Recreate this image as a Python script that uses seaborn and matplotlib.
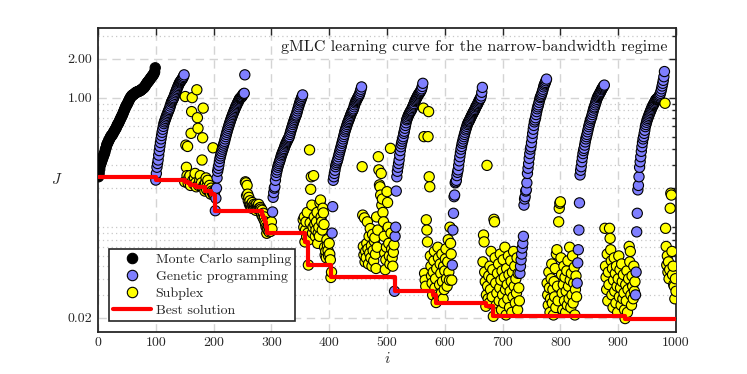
import numpy as np
import pandas as pd
import matplotlib
matplotlib.use("Agg")
import matplotlib.pyplot as plt
from matplotlib.lines import Line2D
from matplotlib.ticker import FixedLocator, NullFormatter
import seaborn as sns

# ---------------- data ----------------
mc_J = [0.245, 0.26, 0.28, 0.30, 0.31, 0.32, 0.33, 0.34, 0.35, 0.36,
        0.37, 0.38, 0.40, 0.41, 0.43, 0.44, 0.45, 0.46, 0.47, 0.48,
        0.49, 0.50, 0.51, 0.51, 0.52, 0.53, 0.54, 0.55, 0.56, 0.57,
        0.58, 0.59, 0.61, 0.62, 0.63, 0.64, 0.66, 0.67, 0.69, 0.70,
        0.72, 0.73, 0.75, 0.77, 0.79, 0.81, 0.83, 0.85, 0.87, 0.88,
        0.90, 0.92, 0.94, 0.96, 0.98, 1.00, 1.01, 1.03, 1.04, 1.05,
        1.05, 1.06, 1.07, 1.08, 1.09, 1.10, 1.10, 1.11, 1.11, 1.12,
        1.12, 1.13, 1.13, 1.14, 1.15, 1.16, 1.17, 1.18, 1.19, 1.20,
        1.22, 1.24, 1.26, 1.28, 1.30, 1.32, 1.33, 1.35, 1.37, 1.39,
        1.41, 1.43, 1.45, 1.47, 1.49, 1.51, 1.54, 1.58, 1.70]
mc_start = 1

gp_start = [100, 203, 302, 405, 513, 613, 730, 829, 930]
gp_J = [
    [0.231, 0.26, 0.29, 0.31, 0.33, 0.36, 0.39, 0.42, 0.45, 0.48,
     0.51, 0.54, 0.57, 0.60, 0.63, 0.65, 0.67, 0.69, 0.71, 0.73,
     0.75, 0.77, 0.79, 0.81, 0.83, 0.86, 0.89, 0.92, 0.94, 0.96,
     0.98, 1.00, 1.03, 1.06, 1.09, 1.12, 1.15, 1.18, 1.21, 1.24,
     1.27, 1.30, 1.32, 1.34, 1.36, 1.38, 1.40, 1.43, 1.46, 1.50],
    [0.134, 0.167, 0.20, 0.24, 0.27, 0.285, 0.30, 0.32, 0.34, 0.355,
     0.37, 0.385, 0.40, 0.415, 0.43, 0.445, 0.46, 0.48, 0.50, 0.52,
     0.54, 0.56, 0.58, 0.60, 0.62, 0.64, 0.66, 0.68, 0.70, 0.72,
     0.74, 0.76, 0.78, 0.80, 0.82, 0.84, 0.86, 0.88, 0.90, 0.92,
     0.94, 0.96, 0.98, 0.99, 1.00, 1.01, 1.02, 1.04, 1.06, 1.07,
     1.08, 1.50],
    [0.131, 0.17, 0.185, 0.20, 0.205, 0.23, 0.25, 0.265, 0.277, 0.29,
     0.30, 0.31, 0.32, 0.33, 0.342, 0.355, 0.365, 0.375, 0.385, 0.395,
     0.405, 0.418, 0.43, 0.44, 0.45, 0.46, 0.47, 0.48, 0.49, 0.50,
     0.52, 0.54, 0.56, 0.58, 0.597, 0.62, 0.64, 0.66, 0.68, 0.70,
     0.72, 0.735, 0.76, 0.79, 0.82, 0.85, 0.88, 0.91, 0.94, 0.96,
     0.99, 1.02, 1.05],
    [0.09, 0.144, 0.23, 0.245, 0.26, 0.275, 0.293, 0.305, 0.315, 0.325,
     0.335, 0.35, 0.365, 0.38, 0.395, 0.41, 0.425, 0.444, 0.46, 0.48,
     0.50, 0.52, 0.545, 0.563, 0.58, 0.60, 0.62, 0.64, 0.655, 0.673,
     0.69, 0.71, 0.73, 0.75, 0.77, 0.785, 0.80, 0.82, 0.85, 0.88,
     0.91, 0.93, 0.95, 0.97, 0.99, 1.01, 1.03, 1.05, 1.08, 1.12,
     1.16, 1.21],
    [0.032, 0.085, 0.10, 0.19, 0.245, 0.27, 0.29, 0.31, 0.33, 0.36,
     0.39, 0.418, 0.44, 0.46, 0.48, 0.50, 0.53, 0.55, 0.58, 0.61,
     0.64, 0.673, 0.69, 0.71, 0.73, 0.745, 0.76, 0.775, 0.79, 0.80,
     0.82, 0.84, 0.86, 0.88, 0.90, 0.93, 0.95, 0.97, 0.99, 1.01,
     1.03, 1.05, 1.07, 1.08, 1.10, 1.12, 1.14, 1.17, 1.22, 1.29],
    [0.051, 0.095, 0.128, 0.172, 0.177, 0.22, 0.224, 0.23, 0.25, 0.265,
     0.277, 0.30, 0.325, 0.35, 0.375, 0.40, 0.42, 0.444, 0.46, 0.48,
     0.50, 0.52, 0.54, 0.563, 0.58, 0.60, 0.62, 0.635, 0.65, 0.66,
     0.673, 0.69, 0.705, 0.72, 0.735, 0.75, 0.765, 0.78, 0.795, 0.81,
     0.83, 0.85, 0.865, 0.88, 0.90, 0.92, 0.94, 0.96, 0.98, 0.99,
     1.03, 1.10, 1.20],
    [0.044, 0.050, 0.056, 0.062, 0.069, 0.075, 0.085, 0.148, 0.165, 0.172,
     0.19, 0.194, 0.22, 0.26, 0.285, 0.31, 0.34, 0.37, 0.40, 0.418,
     0.45, 0.49, 0.53, 0.57, 0.61, 0.65, 0.673, 0.70, 0.74, 0.78,
     0.82, 0.85, 0.88, 0.92, 0.96, 1.00, 1.02, 1.05, 1.08, 1.12,
     1.16, 1.21, 1.25, 1.28, 1.31, 1.35, 1.39],
    [0.037, 0.053, 0.067, 0.095, 0.154, 0.253, 0.275, 0.293, 0.32, 0.345,
     0.37, 0.39, 0.406, 0.43, 0.455, 0.48, 0.50, 0.52, 0.545, 0.57,
     0.597, 0.62, 0.645, 0.67, 0.69, 0.71, 0.74, 0.77, 0.80, 0.83,
     0.85, 0.88, 0.91, 0.94, 0.97, 1.00, 1.02, 1.04, 1.06, 1.08,
     1.10, 1.12, 1.15, 1.17, 1.19, 1.21, 1.23, 1.25],
    [0.030, 0.045, 0.092, 0.128, 0.194, 0.21, 0.245, 0.29, 0.32, 0.35,
     0.385, 0.418, 0.45, 0.48, 0.50, 0.53, 0.56, 0.597, 0.62, 0.645,
     0.67, 0.69, 0.71, 0.73, 0.75, 0.77, 0.79, 0.81, 0.83, 0.85,
     0.87, 0.885, 0.90, 0.92, 0.94, 0.96, 0.97, 0.98, 0.99, 1.00,
     1.01, 1.03, 1.05, 1.08, 1.12, 1.17, 1.23, 1.29, 1.36, 1.45,
     1.59],
]

sp_start = [150, 255, 355, 457, 563, 666, 777, 877, 981]
sp_J = [
    [0.224, 1.02, 0.43, 0.29, 0.25, 0.42, 0.218, 0.24, 0.23, 0.25,
     0.21, 0.53, 0.78, 1.00, 0.23, 0.22, 0.215, 0.24, 0.26, 0.22,
     0.205, 1.15, 0.70, 0.58, 0.21, 0.22, 0.23, 0.25, 0.21, 0.22,
     0.33, 0.49, 0.83, 0.21, 0.21, 0.19, 0.22, 0.24, 0.195, 0.21,
     0.23, 0.20, 0.19, 0.21, 0.195, 0.18, 0.20, 0.19, 0.185, 0.41,
     0.177, 0.18, 0.19],
    [0.224, 0.22, 0.175, 0.21, 0.18, 0.16, 0.17, 0.15, 0.16, 0.145,
     0.15, 0.14, 0.155, 0.145, 0.14, 0.15, 0.145, 0.14, 0.135, 0.15,
     0.14, 0.145, 0.138, 0.15, 0.14, 0.136, 0.142, 0.138, 0.125, 0.135,
     0.12, 0.128, 0.115, 0.12, 0.11, 0.105, 0.10, 0.0897, 0.098, 0.095,
     0.105, 0.092, 0.10, 0.095, 0.093, 0.11, 0.097],
    [0.114, 0.10, 0.12, 0.077, 0.095, 0.11, 0.085, 0.13, 0.09, 0.051,
     0.08, 0.395, 0.108, 0.196, 0.245, 0.148, 0.09, 0.10, 0.25, 0.12,
     0.105, 0.085, 0.095, 0.11, 0.13, 0.075, 0.09, 0.10, 0.085, 0.154,
     0.162, 0.12, 0.11, 0.095, 0.14, 0.129, 0.105, 0.07, 0.061, 0.065,
     0.058, 0.08, 0.072, 0.066, 0.06, 0.075, 0.062, 0.056, 0.0409, 0.045],
    [0.293, 0.124, 0.071, 0.061, 0.118, 0.054, 0.065, 0.058, 0.075, 0.11,
     0.068, 0.052, 0.085, 0.063, 0.0976, 0.058, 0.072, 0.05, 0.088, 0.066,
     0.055, 0.078, 0.083, 0.062, 0.048, 0.12, 0.07, 0.095, 0.35, 0.277,
     0.212, 0.205, 0.177, 0.26, 0.148, 0.165, 0.13, 0.11, 0.085, 0.063,
     0.047, 0.056, 0.07, 0.188, 0.155, 0.10, 0.075, 0.06, 0.052, 0.406,
     0.09, 0.068, 0.058, 0.05, 0.064, 0.073],
    [0.83, 0.50, 0.044, 0.039, 0.035, 0.114, 0.095, 0.077, 0.50, 0.78,
     0.245, 0.205, 0.06, 0.05, 0.042, 0.037, 0.030, 0.045, 0.055, 0.065,
     0.034, 0.04, 0.0262, 0.048, 0.03, 0.07, 0.058, 0.029, 0.036, 0.052,
     0.044, 0.031, 0.062, 0.038, 0.028, 0.05, 0.033, 0.046, 0.057, 0.068,
     0.04, 0.035, 0.054, 0.08, 0.045, 0.039, 0.10, 0.075, 0.062, 0.039],
    [0.054, 0.087, 0.077, 0.045, 0.038, 0.0245, 0.03, 0.30, 0.035, 0.028,
     0.042, 0.026, 0.05, 0.033, 0.065, 0.04, 0.029, 0.047, 0.0205, 0.115,
     0.11, 0.058, 0.037, 0.025, 0.031, 0.044, 0.022, 0.052, 0.027, 0.034,
     0.062, 0.039, 0.023, 0.046, 0.03, 0.056, 0.026, 0.041, 0.07, 0.033,
     0.021, 0.048, 0.036, 0.028, 0.06, 0.043, 0.024, 0.032, 0.055, 0.038,
     0.022, 0.045, 0.029, 0.065, 0.035, 0.05, 0.026, 0.04, 0.031, 0.058,
     0.023, 0.044, 0.034, 0.027],
    [0.037, 0.03, 0.025, 0.045, 0.034, 0.022, 0.028, 0.04, 0.052, 0.026,
     0.033, 0.021, 0.038, 0.029, 0.048, 0.024, 0.062, 0.067, 0.035, 0.027,
     0.11, 0.14, 0.153, 0.157, 0.058, 0.043, 0.031, 0.023, 0.036, 0.05,
     0.027, 0.041, 0.022, 0.032, 0.046, 0.025, 0.055, 0.035, 0.028, 0.07,
     0.039, 0.024, 0.044, 0.03, 0.06, 0.026, 0.037, 0.049, 0.021, 0.033,
     0.042, 0.029],
    [0.098, 0.05, 0.041, 0.033, 0.062, 0.027, 0.045, 0.036, 0.098, 0.082,
     0.067, 0.055, 0.03, 0.048, 0.024, 0.039, 0.058, 0.032, 0.044, 0.026,
     0.05, 0.035, 0.022, 0.04, 0.06, 0.029, 0.047, 0.034, 0.025, 0.052,
     0.038, 0.028, 0.043, 0.031, 0.023, 0.0197, 0.036, 0.027, 0.046, 0.022,
     0.033, 0.04, 0.071, 0.054, 0.065, 0.03, 0.025, 0.042, 0.035, 0.028,
     0.05, 0.032, 0.038],
    [0.905, 0.098, 0.071, 0.051, 0.06, 0.045, 0.054, 0.04, 0.047, 0.14,
     0.183, 0.177, 0.065, 0.043, 0.05, 0.036, 0.035, 0.028, 0.04, 0.032],
]

best_i = [1, 100, 150, 156, 160, 170, 185, 195, 200, 203, 283, 285, 287,
          289, 290, 291, 292, 358, 364, 403, 513, 579, 585, 671, 684, 912, 1000]
best_J = [0.245, 0.231, 0.224, 0.218, 0.21, 0.205, 0.19, 0.18, 0.177, 0.134,
          0.125, 0.12, 0.115, 0.11, 0.105, 0.10, 0.0897, 0.077, 0.051, 0.0409,
          0.032, 0.030, 0.0262, 0.0245, 0.0205, 0.0197, 0.0197]

labels = ["Monte Carlo sampling", "Genetic programming", "Subplex", "Best solution"]
colors = {"Monte Carlo sampling": "#000000",
          "Genetic programming": "#7F7FFF",
          "Subplex": "#FFFF00"}
title_text = "gMLC learning curve for the narrow-bandwidth regime"
ytick_vals = [0.02, 1.0, 2.0]
ytick_labels = ["0.02", "1.00", "2.00"]
xtick_vals = list(range(0, 1001, 100))

# ---------------- build table ----------------
rows = []
for k, v in enumerate(mc_J):
    rows.append((mc_start + k, v, labels[0]))
for s, vals in zip(gp_start, gp_J):
    for k, v in enumerate(vals):
        rows.append((s + k, v, labels[1]))
for s, vals in zip(sp_start, sp_J):
    for k, v in enumerate(vals):
        rows.append((s + k, v, labels[2]))
df = pd.DataFrame(rows, columns=["i", "J", "method"]).sort_values("i", kind="stable")
best = pd.DataFrame({"i": best_i, "J": best_J})

# ---------------- style ----------------
sns.set_style("white")
plt.rcParams["font.family"] = ["cmr10", "DejaVu Serif"]
plt.rcParams["mathtext.fontset"] = "cm"
plt.rcParams["axes.unicode_minus"] = False

fig = plt.figure(figsize=(7.47, 3.74), dpi=100)
ax = fig.add_axes([98 / 747, 1 - 331.7 / 374, 578 / 747, 303.4 / 374])

sns.scatterplot(data=df, x="i", y="J", hue="method", palette=colors, s=54,
                edgecolor="black", linewidth=0.8, legend=False, ax=ax, zorder=3)
sns.lineplot(data=best, x="i", y="J", color="#FF0000", linewidth=3,
             drawstyle="steps-post", estimator=None, sort=False, ax=ax, zorder=4)

ax.set_yscale("log")
ax.set_xlim(0, 1000)
ax.set_ylim(0.0156, 3.43)

ax.xaxis.set_major_locator(FixedLocator(xtick_vals))
ax.set_xticklabels([str(v) for v in xtick_vals])
ax.yaxis.set_major_locator(FixedLocator(ytick_vals))
ax.set_yticklabels(ytick_labels)
minor_vals = [0.03, 0.04, 0.05, 0.06, 0.07, 0.08, 0.09, 0.1, 0.2, 0.3, 0.4,
              0.5, 0.6, 0.7, 0.8, 0.9, 3.0]
ax.yaxis.set_minor_locator(FixedLocator(minor_vals))
ax.yaxis.set_minor_formatter(NullFormatter())
ax.xaxis.set_minor_locator(FixedLocator([]))

ax.tick_params(which="both", direction="in", top=True, right=True,
               colors="#262626", labelsize=10, labelcolor="#262626")
ax.tick_params(which="major", length=5, width=1.0, pad=4)
ax.tick_params(which="minor", length=3, width=1.0)

for sp in ax.spines.values():
    sp.set_visible(True)
    sp.set_color("#262626")
    sp.set_linewidth(1.3)

ax.grid(True, which="major", axis="both", color="#D4D4D4", linestyle=(0, (6, 4)),
        linewidth=1.0, zorder=0)
ax.grid(True, which="minor", axis="y", color="#C8C8C8", linestyle=(0, (1, 2.5)),
        linewidth=0.9, zorder=0)
ax.set_axisbelow(True)

ax.set_xlabel("$i$", fontsize=11, labelpad=1)
ax.set_ylabel("$J$", fontsize=11, rotation=0, labelpad=8, va="center")

ax.text(0.986, 0.938, title_text, transform=ax.transAxes, ha="right", va="center",
        fontsize=11.5, color="#1a1a1a", zorder=5,
        bbox=dict(facecolor="white", edgecolor="none", pad=1.0))

handles = [
    Line2D([], [], marker="o", ls="none", markerfacecolor=colors[labels[0]],
           markeredgecolor="black", markersize=7.5, markeredgewidth=0.8),
    Line2D([], [], marker="o", ls="none", markerfacecolor=colors[labels[1]],
           markeredgecolor="black", markersize=7.5, markeredgewidth=0.8),
    Line2D([], [], marker="o", ls="none", markerfacecolor=colors[labels[2]],
           markeredgecolor="black", markersize=7.5, markeredgewidth=0.8),
    Line2D([], [], color="#FF0000", lw=3),
]
leg = ax.legend(handles, labels, loc="lower left", bbox_to_anchor=(0.019, 0.035),
                borderaxespad=0, fontsize=10, frameon=True, fancybox=False,
                framealpha=1, edgecolor="#262626", handlelength=2.7,
                handletextpad=0.35, labelspacing=0.3, borderpad=0.3)
leg.get_frame().set_linewidth(1.2)
leg.set_zorder(6)

fig.savefig("out.png", dpi=100)
